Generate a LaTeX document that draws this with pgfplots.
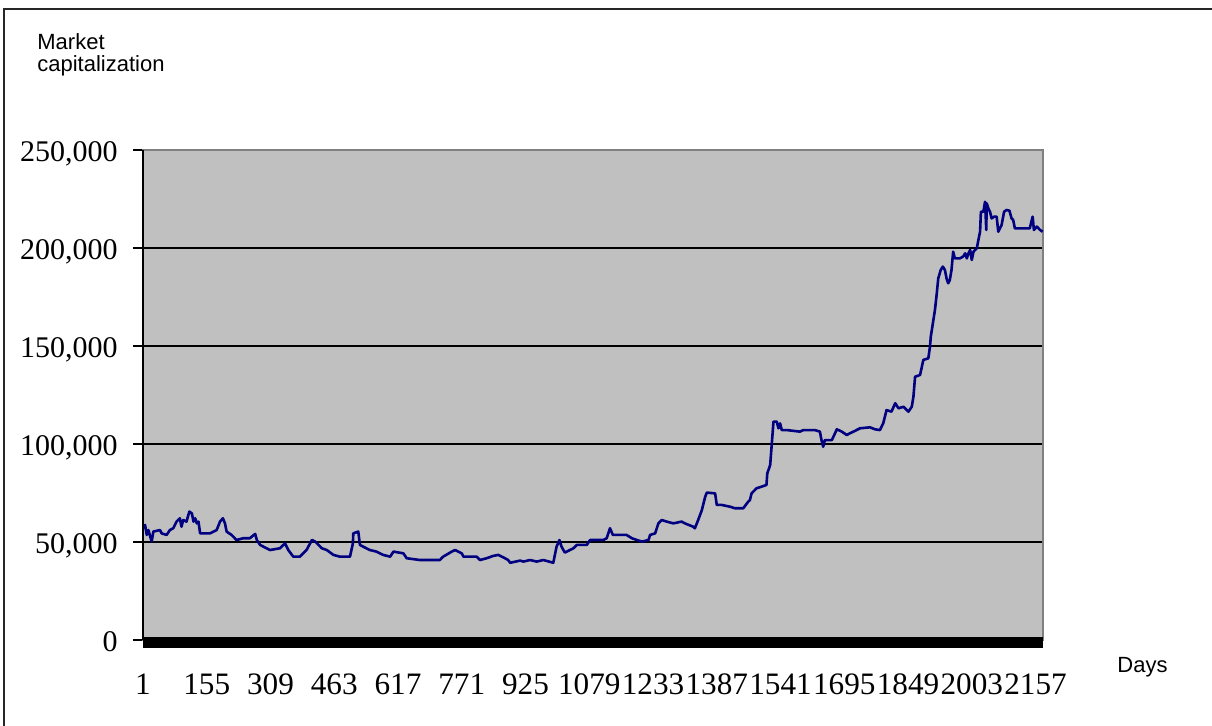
\documentclass[border=0pt]{standalone}
\usepackage{fontspec}
\setmainfont{Liberation Serif}
\newfontfamily\arialfont{Liberation Sans}
\usepackage{pgfplots}
\pgfplotsset{compat=1.18}
\definecolor{plotgray}{HTML}{C0C0C0}
\definecolor{bordergray}{HTML}{808080}
\definecolor{navyline}{HTML}{000080}
\pgfplotstableread{
day value
1 57000
6 58700
10 53600
14 56100
22 50200
26 55300
42 56100
46 54400
58 53600
66 56100
74 57000
82 60400
90 62100
94 57800
98 61200
106 60400
113 65500
119 64600
123 60400
127 62100
131 59500
135 60400
139 54400
163 54400
179 56100
187 60400
194 62100
199 59500
203 55300
215 53600
227 51000
243 51900
259 51900
272 54100
276 51000
284 48500
292 47600
308 45900
332 46800
344 49300
352 45900
364 42500
380 42500
396 45900
409 51000
417 50200
433 46800
445 45900
461 43400
477 42500
501 42500
508 49300
509 54400
521 55300
525 48500
533 47600
549 45900
565 45100
581 43400
598 42500
606 45100
630 44200
638 41700
670 40800
718 40800
726 42500
747 45100
755 45900
771 44200
775 42500
807 42500
815 40800
831 41700
847 42900
859 43400
871 42200
883 40800
888 39400
912 40500
920 40000
936 40800
952 40000
968 40800
992 39400
1000 47600
1007 51000
1012 47600
1020 44600
1032 45900
1041 46800
1049 48500
1073 48500
1081 51000
1113 51000
1121 51900
1129 57000
1136 53600
1169 53600
1182 51900
1194 51000
1206 50200
1222 51000
1226 53600
1238 54400
1246 59500
1254 61200
1266 60400
1282 59500
1302 60400
1310 59500
1330 57800
1334 57000
1342 61200
1351 66300
1359 73100
1363 75200
1383 74800
1387 68900
1399 68900
1419 68000
1431 67200
1451 67200
1463 70600
1467 71400
1471 74800
1483 77400
1495 78200
1507 79100
1509 85000
1516 89300
1520 100400
1524 111400
1532 111400
1536 108000
1540 110500
1544 107100
1556 107100
1588 106300
1596 107100
1624 107100
1636 106300
1640 102000
1644 98600
1648 102000
1665 102000
1677 107500
1689 106300
1701 104600
1709 105500
1717 106300
1733 108000
1757 108500
1769 107500
1781 107100
1789 110500
1797 117300
1809 116500
1818 120800
1826 118200
1838 119000
1850 116500
1858 119000
1862 124100
1866 134300
1878 135200
1886 142900
1898 143700
1902 149600
1904 154800
1909 161600
1914 168400
1918 176000
1922 184500
1928 188800
1933 190500
1938 188800
1942 184500
1946 182000
1950 183700
1954 188800
1958 198100
1962 194700
1974 194700
1982 195600
1987 197300
1991 194700
1995 197300
1999 199000
2003 193900
2007 198100
2015 199800
2019 204100
2023 208300
2025 218500
2031 218500
2035 223600
2038 209200
2039 222800
2043 220200
2047 218500
2051 215100
2057 216000
2063 216000
2067 208300
2075 211700
2081 218500
2087 219400
2094 219000
2099 215100
2103 214300
2107 210000
2143 210000
2150 216000
2153 209200
2160 210900
2168 209200
2174 208300
}\mcap
\begin{document}
\begin{tikzpicture}
\useasboundingbox (0,0) rectangle (606pt,363pt);
\draw[line width=1pt, black!85] (2pt,-10pt) -- (2pt,358.5pt) -- (620pt,358.5pt);
\node[anchor=base west, inner sep=0pt, font=\arialfont\fontsize{11}{13}\selectfont] at (18.5pt,338pt) {Market};
\node[anchor=base west, inner sep=0pt, font=\arialfont\fontsize{11}{13}\selectfont] at (18.5pt,327pt) {capitalization};
\node[anchor=base west, inner sep=0pt, font=\arialfont\fontsize{11}{13}\selectfont] at (558.5pt,26.5pt) {Days};
\begin{axis}[
  at={(71.5pt,43pt)}, anchor=south west,
  scale only axis, width=450pt, height=245pt,
  xmin=1, xmax=2175, ymin=0, ymax=250000,
  axis background/.style={fill=plotgray},
  axis line style={draw=bordergray, line width=1pt},
  xtick={1,155,...,2157},
  ytick={0,50000,...,250000},
  scaled y ticks=false,
  scaled x ticks=false,
  tick align=inside,
  xtick pos=bottom, ytick pos=left,
  major tick length=5pt,
  xtick style={draw=none},
  ytick style={black, line width=1pt, xshift=-5pt},
  ymajorgrids,
  major grid style={black, line width=0.9pt},
  ticklabel style={font=\fontsize{15}{18}\selectfont},
  /pgf/number format/assume math mode=true,
  /pgf/number format/fixed,
  /pgf/number format/precision=0,
  yticklabel style={anchor=base east, inner sep=0pt, xshift=-12.5pt, yshift=-6pt, /pgf/number format/fixed, /pgf/number format/1000 sep={,}},
  xticklabel style={anchor=base, inner sep=0pt, yshift=-27.5pt, font=\fontsize{15.6}{18}\selectfont, /pgf/number format/fixed, /pgf/number format/1000 sep={}},
  clip=false,
]
\addplot[navyline, line width=1.3pt, line join=round, mark=none] table[x=day, y=value] {\mcap};
\draw[bordergray, line width=1pt] (rel axis cs:0,1) -- (rel axis cs:1,1);
\draw[black, line width=1pt] (rel axis cs:0,0) -- (rel axis cs:0,1);
\fill[black] ([yshift=1.5pt]rel axis cs:0,0) rectangle ([yshift=-4pt]rel axis cs:1,0);
\end{axis}
\end{tikzpicture}
\end{document}
